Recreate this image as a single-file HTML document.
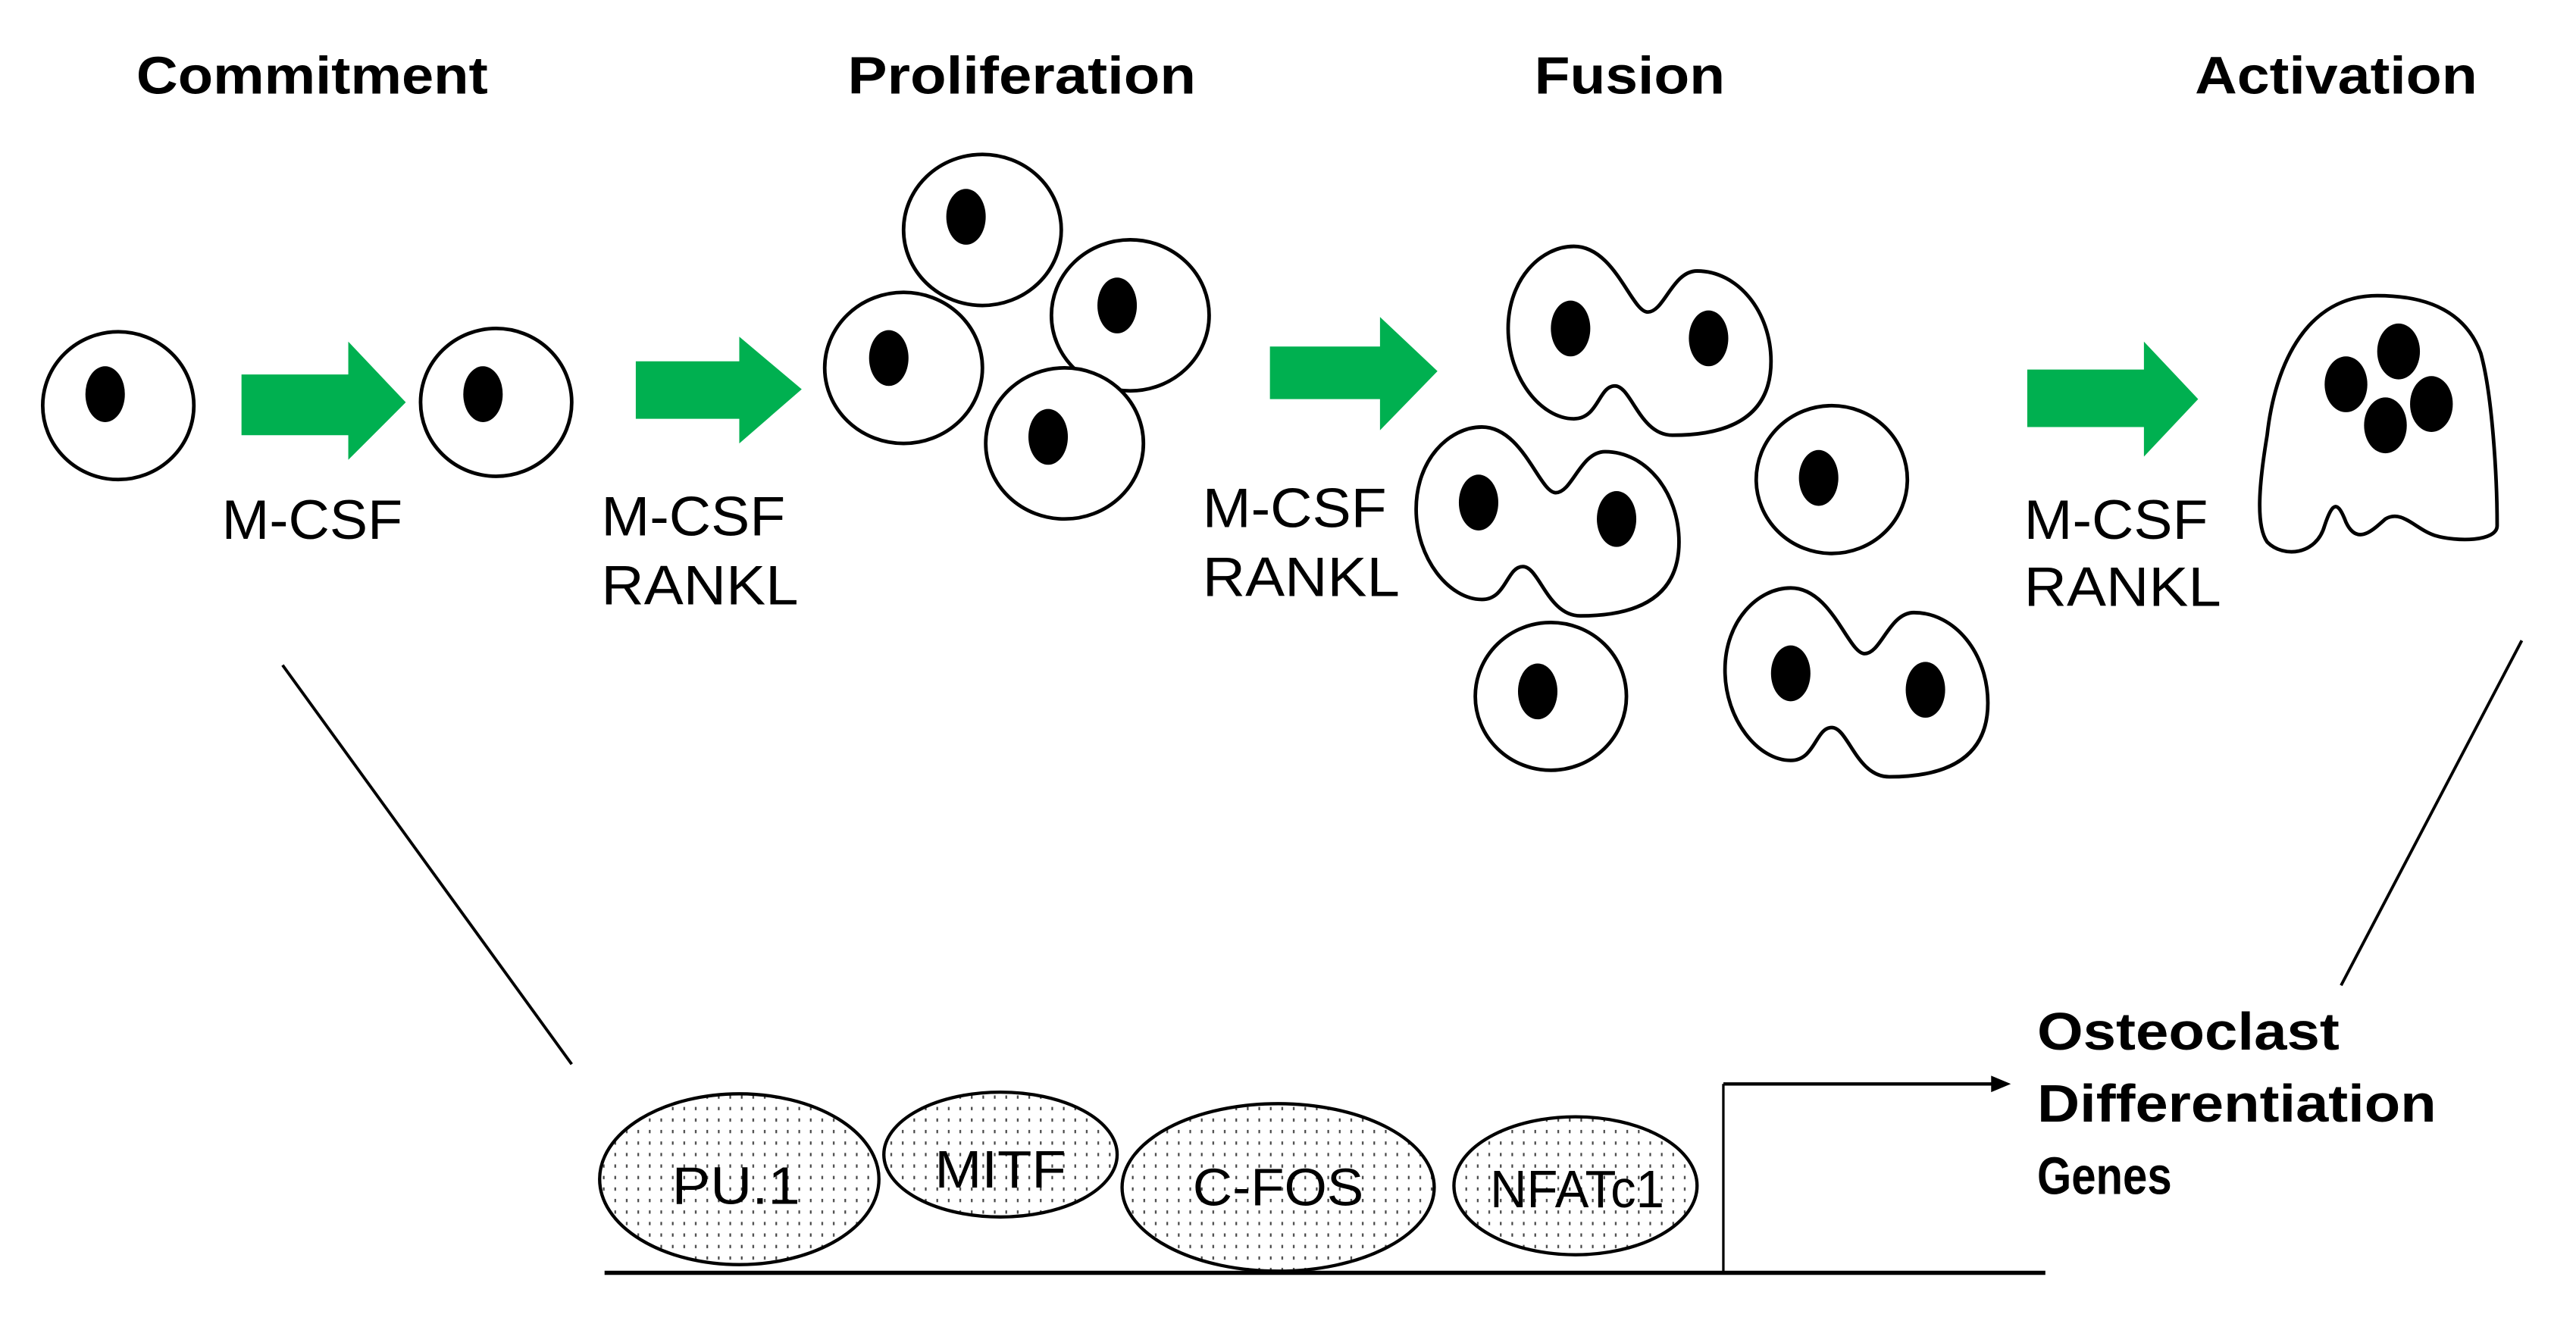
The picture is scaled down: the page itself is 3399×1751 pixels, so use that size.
<!DOCTYPE html>
<html><head><meta charset="utf-8"><style>html,body{margin:0;padding:0;background:#fff}svg{display:block}</style></head>
<body>
<svg width="3399" height="1751" viewBox="0 0 1568 808" preserveAspectRatio="none" xmlns="http://www.w3.org/2000/svg" font-family="Liberation Sans, Arial, sans-serif">
<defs>
<pattern id="dots" width="7" height="7" patternUnits="userSpaceOnUse"><rect width="7" height="7" fill="#fff"/><rect x="3" y="2" width="1" height="2" fill="#444"/></pattern>
<g id="dbl"><path d="M40,0 C20,0 0,20 0,50 C0,80 20,105 40,105 C55,105 55,85 65,85 C75,85 80,115 100,115 C140,115 160,100 160,70 C160,40 140,15 115,15 C100,15 95,40 85,40 C75,40 65,0 40,0 Z" fill="#fff" stroke="#000" stroke-width="2.2"/></g>
</defs>
<g font-weight="bold" font-size="32" text-anchor="middle">
<text x="190" y="57" textLength="214" lengthAdjust="spacingAndGlyphs">Commitment</text>
<text x="622" y="57" textLength="212" lengthAdjust="spacingAndGlyphs">Proliferation</text>
<text x="992" y="57" textLength="116" lengthAdjust="spacingAndGlyphs">Fusion</text>
<text x="1422" y="57" textLength="172" lengthAdjust="spacingAndGlyphs">Activation</text>
</g>
<g fill="#fff" stroke="#000" stroke-width="2.2">
<ellipse cx="72" cy="247" rx="46" ry="45"/><ellipse cx="302" cy="245" rx="46" ry="45"/>
<ellipse cx="598" cy="140" rx="48" ry="46"/><ellipse cx="688" cy="192" rx="48" ry="46"/>
<ellipse cx="550" cy="224" rx="48" ry="46"/><ellipse cx="648" cy="270" rx="48" ry="46"/>
<ellipse cx="1115" cy="292" rx="46" ry="45"/><ellipse cx="944" cy="424" rx="46" ry="45"/>
</g>
<use href="#dbl" transform="translate(918,150)"/>
<use href="#dbl" transform="translate(862,260)"/>
<use href="#dbl" transform="translate(1050,358)"/>
<path d="M1447,180 C1405,180 1385,220 1380,265 C1375,295 1373,320 1380,330 C1390,340 1410,338 1415,320 C1420,305 1423,305 1428,318 C1435,333 1445,322 1452,316 C1462,310 1470,322 1482,326 C1495,330 1520,330 1520,320 C1520,290 1517,240 1510,215 C1500,188 1475,180 1447,180 Z" fill="#fff" stroke="#000" stroke-width="2.2"/>
<g fill="#000">
<ellipse cx="64" cy="240" rx="12" ry="17"/><ellipse cx="294" cy="240" rx="12" ry="17"/>
<ellipse cx="588" cy="132" rx="12" ry="17"/><ellipse cx="680" cy="186" rx="12" ry="17"/>
<ellipse cx="541" cy="218" rx="12" ry="17"/><ellipse cx="638" cy="266" rx="12" ry="17"/>
<ellipse cx="956" cy="200" rx="12" ry="17"/><ellipse cx="1040" cy="206" rx="12" ry="17"/>
<ellipse cx="900" cy="306" rx="12" ry="17"/><ellipse cx="984" cy="316" rx="12" ry="17"/>
<ellipse cx="1107" cy="291" rx="12" ry="17"/><ellipse cx="936" cy="421" rx="12" ry="17"/>
<ellipse cx="1090" cy="410" rx="12" ry="17"/><ellipse cx="1172" cy="420" rx="12" ry="17"/>
<ellipse cx="1428" cy="234" rx="13" ry="17"/><ellipse cx="1460" cy="214" rx="13" ry="17"/>
<ellipse cx="1480" cy="246" rx="13" ry="17"/><ellipse cx="1452" cy="259" rx="13" ry="17"/>
</g>
<g fill="#00b050">
<polygon points="147,228 212,228 212,208 247,245 212,280 212,265 147,265"/>
<polygon points="387,220 450,220 450,205 488,237 450,270 450,255 387,255"/>
<polygon points="773,211 840,211 840,193 875,226 840,262 840,243 773,243"/>
<polygon points="1234,225 1305,225 1305,208 1338,243 1305,278 1305,260 1234,260"/>
</g>
<g font-size="34">
<text x="135" y="328" textLength="110" lengthAdjust="spacingAndGlyphs">M-CSF</text>
<text x="366" y="326" textLength="112" lengthAdjust="spacingAndGlyphs">M-CSF</text>
<text x="366" y="368" textLength="120" lengthAdjust="spacingAndGlyphs">RANKL</text>
<text x="732" y="321" textLength="112" lengthAdjust="spacingAndGlyphs">M-CSF</text>
<text x="732" y="363" textLength="120" lengthAdjust="spacingAndGlyphs">RANKL</text>
<text x="1232" y="328" textLength="112" lengthAdjust="spacingAndGlyphs">M-CSF</text>
<text x="1232" y="369" textLength="120" lengthAdjust="spacingAndGlyphs">RANKL</text>
</g>
<g stroke="#000" stroke-width="1.8">
<line x1="172" y1="405" x2="348" y2="648"/>
<line x1="1535" y1="390" x2="1425" y2="600"/>
<line x1="368" y1="775" x2="1245" y2="775" stroke-width="2.5"/>
<line x1="1049" y1="660" x2="1049" y2="775" stroke-width="1.5"/>
<line x1="1049" y1="660" x2="1214" y2="660" stroke-width="2"/>
</g>
<polygon points="1212,655 1224,660 1212,665" fill="#000"/>
<g stroke="#000" stroke-width="2" fill="url(#dots)">
<ellipse cx="450" cy="718" rx="85" ry="52"/>
<ellipse cx="609" cy="703" rx="71" ry="38"/>
<ellipse cx="778" cy="723" rx="95" ry="51"/>
<ellipse cx="959" cy="722" rx="74" ry="42"/>
</g>
<g font-size="32" text-anchor="middle">
<text x="448" y="733" textLength="78" lengthAdjust="spacingAndGlyphs">PU.1</text>
<text x="609" y="723" textLength="80" lengthAdjust="spacingAndGlyphs">MITF</text>
<text x="778" y="734" textLength="104" lengthAdjust="spacingAndGlyphs">C-FOS</text>
<text x="960" y="735" textLength="106" lengthAdjust="spacingAndGlyphs">NFATc1</text>
</g>
<g font-size="32" font-weight="bold">
<text x="1240" y="639" textLength="184" lengthAdjust="spacingAndGlyphs">Osteoclast</text>
<text x="1240" y="683" textLength="243" lengthAdjust="spacingAndGlyphs">Differentiation</text>
<text x="1240" y="727" textLength="82" lengthAdjust="spacingAndGlyphs">Genes</text>
</g>
</svg>
</body></html>
